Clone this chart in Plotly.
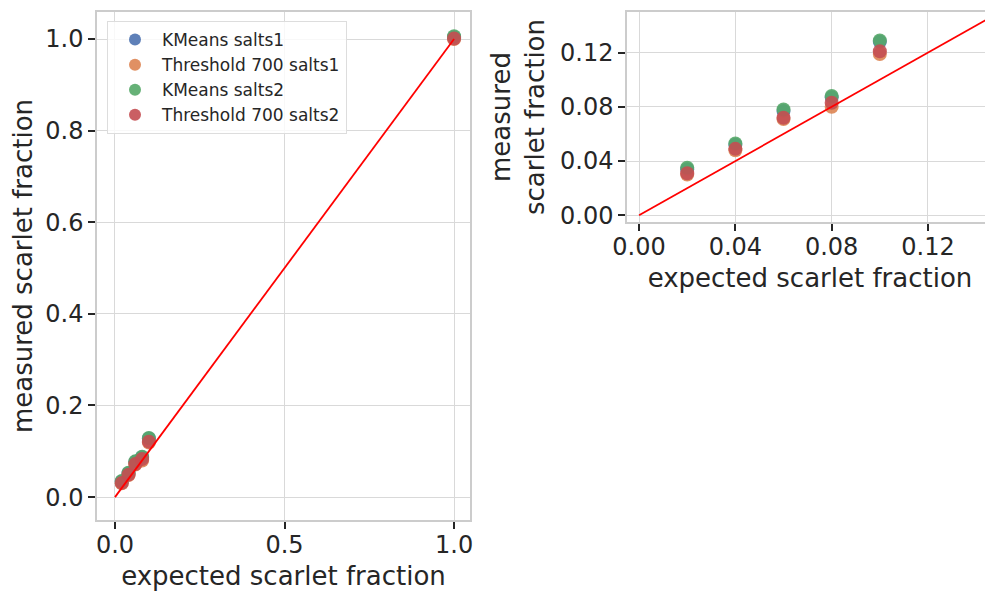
import plotly.graph_objects as go

expected = [0.02, 0.04, 0.06, 0.08, 0.10, 1.0]
kmeans_s1 = [0.034, 0.052, 0.077, 0.087, 0.128, 1.004]
thresh_s1 = [0.030, 0.048, 0.071, 0.080, 0.119, 1.000]
kmeans_s2 = [0.035, 0.053, 0.078, 0.088, 0.129, 1.006]
thresh_s2 = [0.031, 0.049, 0.072, 0.083, 0.121, 1.001]

series = [
    ("KMeans salts1", kmeans_s1, "#4C72B0"),
    ("Threshold 700 salts1", thresh_s1, "#DD8452"),
    ("KMeans salts2", kmeans_s2, "#55A868"),
    ("Threshold 700 salts2", thresh_s2, "#C44E52"),
]
ideal = [0.0, 1.0]

fig = go.Figure()
for name, vals, col in series:
    for xa, ya, show in (("x", "y", True), ("x2", "y2", False)):
        fig.add_trace(go.Scatter(
            x=expected, y=vals, mode="markers", name=name,
            marker=dict(color=col, size=14, opacity=0.9, line=dict(width=0)),
            xaxis=xa, yaxis=ya, showlegend=show))
for xa, ya in (("x", "y"), ("x2", "y2")):
    fig.add_trace(go.Scatter(x=ideal, y=ideal, mode="lines",
                             line=dict(color="red", width=1.8),
                             xaxis=xa, yaxis=ya, showlegend=False))

tickfont = dict(family="DejaVu Sans", size=24, color="#262626")
titlefont = dict(family="DejaVu Sans", size=26, color="#262626")
axis_common = dict(showgrid=True, gridcolor="#d9d9d9", gridwidth=1.2,
                   showline=True, linecolor="#cccccc", linewidth=1.5,
                   ticks="outside", ticklen=7, tickwidth=1.5, tickcolor="#262626",
                   zeroline=False, tickfont=tickfont, title_font=titlefont,
                   automargin=False)

# page body has an 8px margin, so the figure is sized to the visible area
W, H = 985, 583

fig.update_layout(
    width=W, height=H,
    margin=dict(l=0, r=0, t=0, b=0),
    paper_bgcolor="white", plot_bgcolor="white",
    font=tickfont,
    xaxis=dict(domain=[89 / W, 462 / W], range=[-0.053, 1.047], mirror=True,
               tickvals=[0.0, 0.5, 1.0], ticktext=["0.0", "0.5", "1.0"], ticklabelstandoff=-5,
               title=dict(text="expected scarlet fraction", standoff=11), anchor="y", **axis_common),
    yaxis=dict(domain=[1 - 512 / H, 1 - 4 / H], range=[-0.05, 1.059], mirror=True,
               tickvals=[0, 0.2, 0.4, 0.6, 0.8, 1.0], ticktext=["0.0", "0.2", "0.4", "0.6", "0.8", "1.0"],
               title=dict(text="measured scarlet fraction", standoff=12), anchor="x", **axis_common),
    xaxis2=dict(domain=[619 / W, 1.0], range=[-0.005, 0.147], mirror=True,
                tickvals=[0, 0.04, 0.08, 0.12], ticktext=["0.00", "0.04", "0.08", "0.12"], ticklabelstandoff=-5,
                title=dict(text="expected scarlet fraction", standoff=9), anchor="y2", **axis_common),
    yaxis2=dict(domain=[1 - 214 / H, 1 - 4 / H], range=[-0.005, 0.150], mirror=False,
                tickvals=[0, 0.04, 0.08, 0.12], ticktext=["0.00", "0.04", "0.08", "0.12"],
                title=dict(text="measured<br>scarlet fraction", standoff=8), anchor="x2", **axis_common),
    legend=dict(x=99 / W, y=1 - 13 / H, xanchor="left", yanchor="top",
                bgcolor="rgba(255,255,255,0.8)", bordercolor="#dddddd", borderwidth=1,
                font=dict(family="DejaVu Sans", size=17, color="#262626"),
                itemsizing="constant", itemwidth=44),
)

fig.write_html("out.html")
